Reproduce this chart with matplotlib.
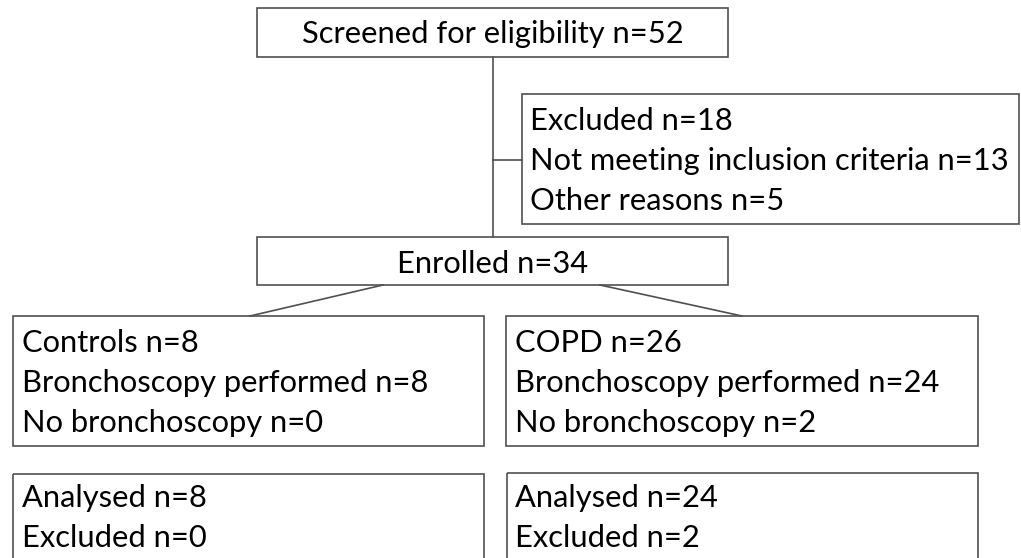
import matplotlib.pyplot as plt
from matplotlib.patches import Rectangle

plt.rcParams['font.family'] = ['Lato', 'DejaVu Sans']

# box texts
screened_text = ["Screened for eligibility n=52"]
excluded_text = ["Excluded n=18", "Not meeting inclusion criteria n=13", "Other reasons n=5"]
enrolled_text = ["Enrolled n=34"]
controls_text = ["Controls n=8", "Bronchoscopy performed n=8", "No bronchoscopy n=0"]
copd_text = ["COPD n=26", "Bronchoscopy performed n=24", "No bronchoscopy n=2"]
controls_analysis = ["Analysed n=8", "Excluded n=0"]
copd_analysis = ["Analysed n=24", "Excluded n=2"]

# layout in pixels: (x0, y0, x1, y1, text, text x, first baseline, centred)
boxes = [
    (257, 8, 728, 57, screened_text, None, 43, True),
    (522, 94, 1019, 224, excluded_text, 530, 130, False),
    (257, 237, 728, 285, enrolled_text, None, 273, True),
    (13, 316, 484, 446, controls_text, 22, 352, False),
    (506, 316, 978, 446, copd_text, 515, 352, False),
    (13, 474, 484, 600, controls_analysis, 22, 507, False),
    (507, 473, 978, 600, copd_analysis, 515, 507, False),
]
LINE_H = 40
EDGE = '#505050'
FS = 22.2

fig = plt.figure(figsize=(10.21, 5.58), dpi=100)
ax = fig.add_axes([0, 0, 1, 1])
ax.set_xlim(0, 1021)
ax.set_ylim(558, 0)
ax.axis('off')

for x0, y0, x1, y1, lines, tx, ty, centred in boxes:
    ax.add_patch(Rectangle((x0, y0), x1 - x0, y1 - y0, fill=False,
                           edgecolor=EDGE, lw=1.2))
    for i, s in enumerate(lines):
        if centred:
            ax.text((x0 + x1) / 2, ty + i * LINE_H, s, ha='center',
                    va='baseline', fontsize=FS, color='black')
        else:
            ax.text(tx, ty + i * LINE_H, s, ha='left', va='baseline',
                    fontsize=FS, color='black')

# connectors
ax.plot([493, 493], [57, 237], color=EDGE, lw=1.2)
ax.plot([493, 522], [160, 160], color=EDGE, lw=1.2)
ax.plot([383, 250], [285, 316], color=EDGE, lw=1.2)
ax.plot([600, 742], [285, 316], color=EDGE, lw=1.2)

fig.savefig('out.png', dpi=100)
